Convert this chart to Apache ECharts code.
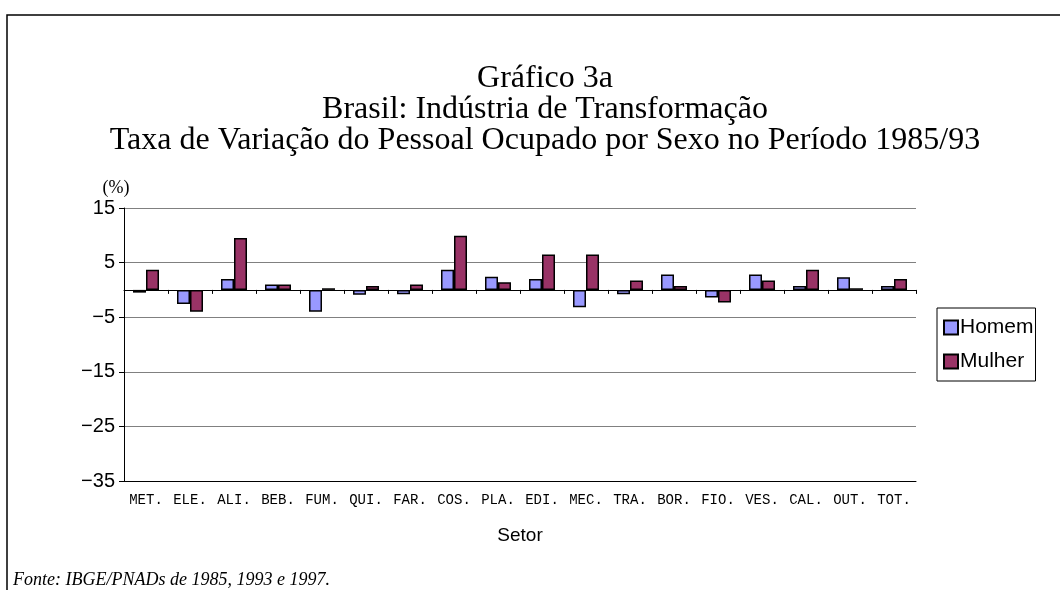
<!DOCTYPE html>
<html>
<head>
<meta charset="utf-8">
<script src="https://cdn.jsdelivr.net/npm/echarts@6/dist/echarts.min.js"></script>
<style>
  html, body { margin: 0; padding: 0; background: #fff; }
  #chart { width: 1060px; height: 590px; }
</style>
</head>
<body>
<div id="chart"></div>
<script>
// setores
var sectors = ['MET.', 'ELE.', 'ALI.', 'BEB.', 'FUM.', 'QUI.', 'FAR.', 'COS.', 'PLA.',
  'EDI.', 'MEC.', 'TRA.', 'BOR.', 'FIO.', 'VES.', 'CAL.', 'OUT.', 'TOT.'];
// taxa de variação (%) 1985/93
var homem = [-0.5, -2.6, 2.0, 1.0, -4.0, -0.9, -0.8, 3.7, 2.4, 2.0, -3.2, -0.8, 2.8, -1.4, 2.8, 0.7, 2.3, 0.7];
var mulher = [3.7, -4.0, 9.5, 1.0, 0.3, 0.7, 1.0, 9.9, 1.4, 6.5, 6.5, 1.7, 0.7, -2.3, 1.7, 3.7, 0.3, 2.0];
// eixo y
var yMin = -35, yMax = 15, yStep = 10;

var myChart = echarts.init(document.getElementById('chart'));

myChart.setOption({
    animation: false,
    title: [{
        text: 'Gráfico 3a\nBrasil: Indústria de Transformação\nTaxa de Variação do Pessoal Ocupado por Sexo no Período 1985/93',
        left: 540,
        textAlign: 'center',
        top: 58,
        textStyle: {
            fontFamily: '"Liberation Serif", "Times New Roman", serif',
            fontSize: 32,
            fontWeight: 'normal',
            lineHeight: 31,
            color: '#000'
        }
    }, {
        text: '(%)',
        left: 111,
        textAlign: 'center',
        top: 174,
        textStyle: {
            fontFamily: '"Liberation Serif", serif',
            fontSize: 18,
            fontWeight: 'normal',
            color: '#000'
        }
    }, {
        text: 'Fonte: IBGE/PNADs de 1985, 1993 e 1997.',
        left: 8,
        top: 566,
        textStyle: {
            fontFamily: '"Liberation Serif", serif',
            fontSize: 18,
            fontStyle: 'italic',
            fontWeight: 'normal',
            color: '#000'
        }
    }],
    legend: {
        orient: 'vertical',
        left: 937,
        top: 308,
        padding: [9, 2, 9, 6],
        icon: 'rect',
        itemWidth: 14,
        itemHeight: 14,
        itemGap: 13,
        borderColor: '#000',
        borderWidth: 1,
        textStyle: {
            fontFamily: '"Liberation Sans", Arial, sans-serif',
            fontSize: 21,
            color: '#000',
            padding: [0, 0, 0, -3]
        },
        data: ['Homem', 'Mulher']
    },
    grid: {
        left: 124,
        right: 144,
        top: 208,
        bottom: 109
    },
    xAxis: [{
        type: 'category',
        data: sectors,
        position: 'bottom',
        name: 'Setor',
        nameLocation: 'middle',
        nameGap: 45,
        nameTextStyle: {
            fontFamily: '"Liberation Sans", Arial, sans-serif',
            fontSize: 19,
            color: '#000'
        },
        axisLine: { onZero: false, lineStyle: { color: '#000', width: 1 } },
        axisTick: { show: false },
        axisLabel: {
            interval: 0,
            margin: 12,
            fontFamily: '"Liberation Mono", "Courier New", monospace',
            fontSize: 14,
            color: '#000'
        }
    }, {
        type: 'category',
        data: sectors,
        position: 'bottom',
        axisLine: { onZero: true, lineStyle: { color: '#000', width: 1 } },
        axisTick: { show: true, length: 4, lineStyle: { color: '#000' } },
        axisLabel: { show: false }
    }],
    yAxis: {
        type: 'value',
        min: yMin,
        max: yMax,
        interval: yStep,
        axisLine: { show: true, lineStyle: { color: '#000', width: 1 } },
        axisTick: { show: true, length: 5, lineStyle: { color: '#000' } },
        axisLabel: {
            margin: 9,
            fontFamily: '"Liberation Sans", Arial, sans-serif',
            fontSize: 20,
            color: '#000',
            formatter: function (v) {
                return String(v).replace('-', '\u2212');
            }
        },
        splitLine: { lineStyle: { color: '#808080', width: 1 } }
    },
    series: [{
        name: 'Homem',
        type: 'bar',
        data: homem,
        barWidth: 13,
        barGap: '0%',
        itemStyle: { color: '#9999ff', borderColor: '#000', borderWidth: 1.5 }
    }, {
        name: 'Mulher',
        type: 'bar',
        data: mulher,
        barWidth: 13,
        barGap: '0%',
        itemStyle: { color: '#993366', borderColor: '#000', borderWidth: 1.5 }
    }],
    graphic: [{
        type: 'polyline',
        shape: { points: [[7, 590], [7, 15], [1060, 15]] },
        style: { stroke: '#000', lineWidth: 1.5, fill: null }
    }]
});

window.addEventListener('resize', function () {
    myChart.resize();
});
</script>
</body>
</html>
